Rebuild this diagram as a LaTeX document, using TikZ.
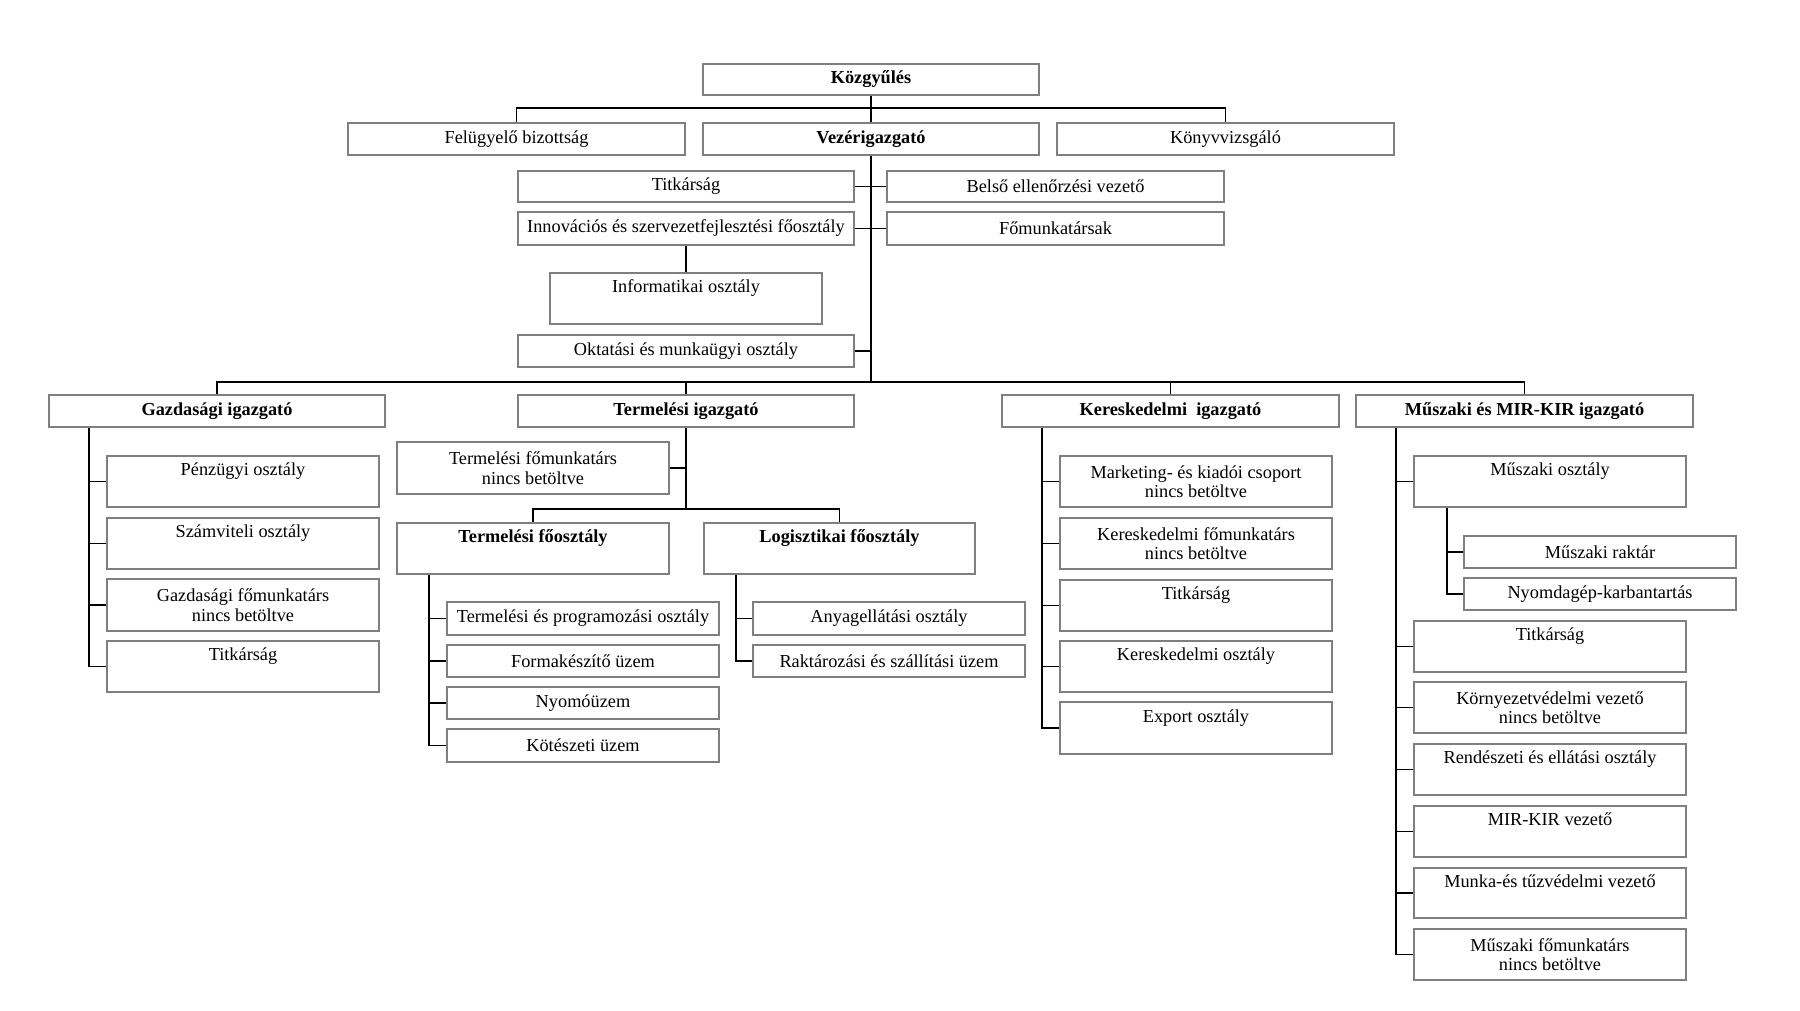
\documentclass[tikz,border=0pt]{standalone}
\usepackage{fontspec}
\setmainfont{Liberation Serif}
\definecolor{boxgray}{HTML}{7F7F7F}
\tikzset{
  box/.style={draw=boxgray, line width=2.6pt, fill=white, inner sep=1pt, align=center, font=\fontsize{18.3}{19.5}\selectfont},
  bbox/.style={box, font=\fontsize{18.3}{19.5}\selectfont\bfseries},
  conn/.style={draw=black, line width=1.8pt},
}
% name, x1, y1, x2, y2, style, text
\newcommand\obx[7]{\node[#6, minimum width={#4-#2}, minimum height={#5-#3}] (#1) at ({(#2+#4)/2},{(#3+#5)/2}) {#7};}
\newcommand\tp[1]{\strut #1\\\strut}
\begin{document}
\begin{tikzpicture}[x=1pt,y=-1pt]
\useasboundingbox (0,0) rectangle (1800,1010);
% top level
\obx{kozgy}{703}{64}{1039}{95}{bbox}{Közgyűlés}
\obx{felu}{348}{123}{685}{155}{box}{Felügyelő bizottság}
\obx{vez}{703}{123}{1039}{155}{bbox}{Vezérigazgató}
\obx{konyv}{1057}{123}{1394}{155}{box}{Könyvvizsgáló}
\obx{titk}{518}{171}{854}{202}{box}{Titkárság}
\obx{belso}{887}{171}{1224}{202}{box}{Belső ellenőrzési vezető}
\obx{innov}{518}{212}{854}{245}{box}{Innovációs és szervezetfejlesztési főosztály}
\obx{fomk}{887}{212}{1224}{245}{box}{Főmunkatársak}
\obx{info}{550}{273}{822}{324}{box}{\tp{Informatikai osztály}}
\obx{okt}{518}{335}{854}{367}{box}{Oktatási és munkaügyi osztály}
% directors
\obx{gaz}{49}{395}{385}{427}{bbox}{Gazdasági igazgató}
\obx{term}{518}{395}{854}{427}{bbox}{Termelési igazgató}
\obx{ker}{1002}{395}{1339}{427}{bbox}{Kereskedelmi\ \ igazgató}
\obx{musz}{1356}{395}{1693}{427}{bbox}{Műszaki és MIR-KIR igazgató}
% Gazdasági
\obx{g1}{107}{456}{379}{507}{box}{\tp{Pénzügyi osztály}}
\obx{g2}{107}{518}{379}{569}{box}{\tp{Számviteli osztály}}
\obx{g3}{107}{579}{379}{631}{box}{Gazdasági főmunkatárs\\nincs betöltve}
\obx{g4}{107}{641}{379}{692}{box}{\tp{Titkárság}}
% Termelési
\obx{tfm}{397}{442}{669}{494}{box}{Termelési főmunkatárs\\nincs betöltve}
\obx{tfo}{397}{523}{669}{574}{bbox}{\tp{Termelési főosztály}}
\obx{lfo}{704}{523}{975}{574}{bbox}{\tp{Logisztikai főosztály}}
\obx{t1}{447}{602}{719}{635}{box}{Termelési és programozási osztály}
\obx{t2}{447}{645}{719}{677}{box}{Formakészítő üzem}
\obx{t3}{447}{687}{719}{719}{box}{Nyomóüzem}
\obx{t4}{447}{729}{719}{762}{box}{Kötészeti üzem}
\obx{l1}{753}{602}{1025}{635}{box}{Anyagellátási osztály}
\obx{l2}{753}{645}{1025}{677}{box}{Raktározási és szállítási üzem}
% Kereskedelmi
\obx{k1}{1060}{456}{1332}{507}{box}{Marketing- és kiadói csoport\\nincs betöltve}
\obx{k2}{1060}{518}{1332}{569}{box}{Kereskedelmi főmunkatárs\\nincs betöltve}
\obx{k3}{1060}{580}{1332}{631}{box}{\tp{Titkárság}}
\obx{k4}{1060}{641}{1332}{692}{box}{\tp{Kereskedelmi osztály}}
\obx{k5}{1060}{702}{1332}{754}{box}{\tp{Export osztály}}
% Műszaki
\obx{m1}{1414}{456}{1686}{507}{box}{\tp{Műszaki osztály}}
\obx{m1a}{1464}{536}{1736}{568}{box}{Műszaki raktár}
\obx{m1b}{1464}{578}{1736}{610}{box}{Nyomdagép-karbantartás}
\obx{m2}{1414}{621}{1686}{672}{box}{\tp{Titkárság}}
\obx{m3}{1414}{682}{1686}{733}{box}{Környezetvédelmi vezető\\nincs betöltve}
\obx{m4}{1414}{744}{1686}{795}{box}{\tp{Rendészeti és ellátási osztály}}
\obx{m5}{1414}{806}{1686}{857}{box}{\tp{MIR-KIR vezető}}
\obx{m6}{1414}{868}{1686}{918}{box}{\tp{Munka-és tűzvédelmi vezető}}
\obx{m7}{1414}{929}{1686}{980}{box}{Műszaki főmunkatárs\\nincs betöltve}
% --- connectors
\draw[conn] (kozgy.south) -- (vez.north);
\draw[conn] (felu.north) -- ++(0,-14) -| (konyv.north);
\draw[conn] (vez.south) -- ++(0,226) coordinate (bus);
\draw[conn] (titk.east) -- (titk.east -| vez.south);
\draw[conn] (belso.west) -- (belso.west -| vez.south);
\draw[conn] (innov.east) -- (innov.east -| vez.south);
\draw[conn] (fomk.west) -- (fomk.west -| vez.south);
\draw[conn] (okt.east) -- (okt.east -| vez.south);
\draw[conn] (innov.south) -- (info.north);
\draw[conn] (gaz.north) |- (bus) -| (musz.north);
\draw[conn] (term.north) -- (term.north |- bus);
\draw[conn] (ker.north) -- (ker.north |- bus);
% Gazdasági
\foreach \c in {g1,g2,g3,g4} \draw[conn] ([xshift=41pt]gaz.south west) |- (\c.west);
% Termelési
\draw[conn] (term.south) -- ++(0,81) coordinate (tbus);
\draw[conn] (tfm.east) -- (tfm.east -| term.south);
\draw[conn] (tfo.north) |- (tbus) -| (lfo.north);
\foreach \c in {t1,t2,t3,t4} \draw[conn] ([xshift=33pt]tfo.south west) |- (\c.west);
\foreach \c in {l1,l2} \draw[conn] ([xshift=33pt]lfo.south west) |- (\c.west);
% Kereskedelmi
\foreach \c in {k1,k2,k3,k4,k5} \draw[conn] ([xshift=41pt]ker.south west) |- (\c.west);
% Műszaki
\foreach \c in {m1,m2,m3,m4,m5,m6,m7} \draw[conn] ([xshift=41pt]musz.south west) |- (\c.west);
\foreach \c in {m1a,m1b} \draw[conn] ([xshift=34pt]m1.south west) |- (\c.west);
\end{tikzpicture}
\end{document}
